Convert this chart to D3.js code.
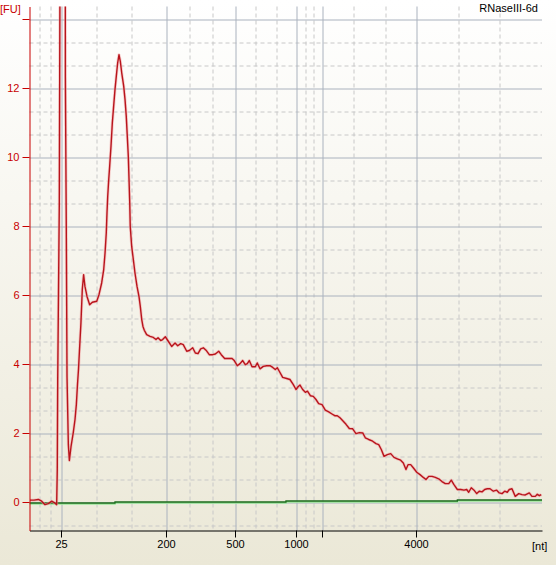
<!DOCTYPE html>
<html>
<head>
<meta charset="utf-8">
<script src="https://cdn.jsdelivr.net/npm/d3@7"></script>
<style>
  body { margin: 0; }
  text { font-family: "Liberation Sans", Arial, sans-serif; font-size: 11px; }
</style>
</head>
<body>
<div id="chart"></div>
<script>
// electropherogram, x is migration time (s), ticks placed at ladder times
var ladderTime = [22.20, 32.44, 39.15, 45.13, 47.60, 56.83];
var ladderLabels = ["25", "200", "500", "1000", "", "4000"];
var fuTicks = [0, 2, 4, 6, 8, 10, 12, 14];
var fuLabels = ["0", "2", "4", "6", "8", "10", "12", ""];

// sample trace (red)
var sampleTime = [
  19.05, 19.44, 19.86, 20.19, 20.51, 20.83, 21.17, 21.42, 21.65, 21.71,
  21.75, 21.91, 22.02, 22.26, 22.48, 22.50, 22.59, 22.66, 22.79, 22.89,
  23.05, 23.27, 23.44, 23.57, 23.68, 23.78, 23.88, 24.02, 24.15, 24.28,
  24.41, 24.61, 24.87, 25.13, 25.56, 25.78, 26.04, 26.24, 26.37, 26.49,
  26.56, 26.63, 26.73, 26.82, 26.95, 27.08, 27.21, 27.34, 27.47, 27.60,
  27.73, 27.86, 28.00, 28.19, 28.32, 28.44, 28.54, 28.64, 28.71, 28.78,
  28.83, 28.97, 29.13, 29.29, 29.49, 29.68, 29.81, 29.95, 30.07, 30.20,
  30.43, 30.76, 31.08, 31.34, 31.54, 31.80, 31.99, 32.25, 32.54, 32.87,
  33.20, 33.46, 33.75, 34.00, 34.34, 34.59, 34.92, 35.18, 35.44, 35.70,
  35.96, 36.22, 36.54, 36.87, 37.13, 37.46, 37.71, 38.04, 38.43, 38.76,
  38.95, 39.27, 39.54, 39.80, 40.05, 40.25, 40.44, 40.71, 41.03, 41.22,
  41.49, 41.81, 42.14, 42.46, 42.73, 42.98, 43.18, 43.37, 43.70, 44.09,
  44.41, 44.74, 45.00, 45.20, 45.39, 45.65, 45.91, 46.12, 46.40, 46.69,
  46.95, 47.21, 47.54, 47.86, 48.19, 48.51, 48.78, 49.03, 49.29, 49.61,
  49.88, 50.20, 50.53, 50.85, 51.18, 51.51, 51.76, 52.09, 52.48, 52.80,
  53.07, 53.32, 53.59, 53.91, 54.24, 54.56, 54.88, 55.21, 55.47, 55.73,
  55.93, 56.19, 56.44, 56.78, 57.10, 57.42, 57.68, 57.95, 58.27, 58.59,
  58.92, 59.24, 59.57, 59.90, 60.15, 60.41, 60.74, 61.07, 61.39, 61.65,
  61.85, 62.10, 62.37, 62.63, 62.88, 63.15, 63.41, 63.66, 63.93, 64.25,
  64.58, 64.83, 65.10, 65.36, 65.61, 65.81, 66.07, 66.39, 66.73, 67.05,
  67.37, 67.76, 68.02, 68.35, 68.54, 68.74, 68.93
];
var sampleFU = [
  0.08, 0.08, 0.10, 0.05, -0.05, -0.02, 0.05, 0.01, -0.05, 0.97,
  3.49, 8.75, 20.0, 45.0, 20.0, 12.34, 7.93, 3.67, 1.69, 1.23,
  1.63, 2.04, 2.42, 2.85, 3.43, 3.87, 4.45, 5.23, 6.19, 6.62,
  6.28, 5.99, 5.75, 5.82, 5.85, 6.04, 6.38, 6.77, 7.25, 7.83,
  8.41, 8.89, 9.38, 9.76, 10.34, 11.02, 11.51, 11.99, 12.38, 12.76,
  13.00, 12.81, 12.47, 12.09, 11.70, 11.22, 10.64, 10.06, 9.38, 8.70,
  8.02, 7.44, 7.06, 6.67, 6.28, 5.99, 5.70, 5.32, 5.12, 5.01,
  4.88, 4.83, 4.80, 4.74, 4.79, 4.71, 4.74, 4.82, 4.69, 4.54,
  4.64, 4.56, 4.62, 4.59, 4.40, 4.42, 4.50, 4.35, 4.33, 4.47,
  4.50, 4.43, 4.30, 4.30, 4.32, 4.40, 4.30, 4.19, 4.19, 4.19,
  4.14, 3.98, 4.04, 4.13, 4.01, 4.04, 4.13, 3.95, 3.95, 4.06,
  3.89, 3.96, 3.98, 3.98, 3.93, 3.87, 3.92, 3.82, 3.64, 3.61,
  3.58, 3.43, 3.29, 3.37, 3.42, 3.29, 3.21, 3.24, 3.11, 3.09,
  3.00, 2.88, 2.85, 2.69, 2.64, 2.58, 2.53, 2.53, 2.47, 2.37,
  2.28, 2.16, 2.15, 2.01, 2.04, 2.03, 1.89, 1.84, 1.79, 1.72,
  1.69, 1.55, 1.35, 1.40, 1.43, 1.32, 1.28, 1.24, 1.16, 0.97,
  1.11, 1.11, 1.02, 0.89, 0.82, 0.74, 0.68, 0.77, 0.77, 0.74,
  0.70, 0.62, 0.56, 0.56, 0.66, 0.53, 0.39, 0.39, 0.37, 0.39,
  0.31, 0.44, 0.37, 0.27, 0.34, 0.32, 0.39, 0.41, 0.41, 0.34,
  0.37, 0.29, 0.27, 0.34, 0.31, 0.39, 0.41, 0.19, 0.27, 0.24,
  0.23, 0.29, 0.19, 0.19, 0.25, 0.21, 0.24
];

// baseline (green), stepped
var baseTime = [19.0, 27.34, 44.02, 60.74, 69.0];
var baseFU = [0, 0.03, 0.06, 0.09, 0.09];

var margin = {top: 6.5, right: 14, bottom: 34.5, left: 29.5},
    width = 556 - margin.left - margin.right,
    height = 565 - margin.top - margin.bottom;

var x = d3.scaleLinear().domain([19, 69]).range([0, width]);
var y = d3.scaleLinear().domain([-0.8, 14.4]).range([height, 0]);

var svg = d3.select("#chart").append("svg")
    .attr("width", 556)
    .attr("height", 565);

var defs = svg.append("defs");
var grad = defs.append("linearGradient")
    .attr("id", "bg").attr("x1", 0).attr("y1", 0).attr("x2", 0).attr("y2", 1);
grad.append("stop").attr("offset", "0%").attr("stop-color", "#ffffff");
grad.append("stop").attr("offset", "100%").attr("stop-color", "#ebe8d7");

defs.append("clipPath").attr("id", "clip")
  .append("rect").attr("width", width).attr("height", height);

svg.append("rect").attr("width", 556).attr("height", 565).attr("fill", "url(#bg)");

var g = svg.append("g")
    .attr("transform", "translate(" + margin.left + "," + margin.top + ")");

function crisp(v) { return Math.floor(v) + 0.5; }

// grid: solid at ticks, dashed at thirds in between
var xb = [x.domain()[0]].concat(ladderTime, [x.domain()[1]]);
var xDash = [];
for (var i = 0; i < xb.length - 1; i++) {
  xDash.push(xb[i] + (xb[i + 1] - xb[i]) / 3, xb[i] + 2 * (xb[i + 1] - xb[i]) / 3);
}
var yDash = [];
for (var v = -2; v < 14.4; v += 2) {
  [v + 2 / 3, v + 4 / 3].forEach(function(d) {
    if (d > y.domain()[0] && d < y.domain()[1]) yDash.push(d);
  });
}

g.selectAll(".xdash").data(xDash).enter().append("line")
    .attr("x1", function(d) { return crisp(x(d)); })
    .attr("x2", function(d) { return crisp(x(d)); })
    .attr("y1", 0).attr("y2", height)
    .style("stroke", "#c8c8c8").style("stroke-dasharray", "4,3");

g.selectAll(".ydash").data(yDash).enter().append("line")
    .attr("x1", 0).attr("x2", width)
    .attr("y1", function(d) { return crisp(y(d)); })
    .attr("y2", function(d) { return crisp(y(d)); })
    .style("stroke", "#c8c8c8").style("stroke-dasharray", "4,3");

g.selectAll(".xsolid").data(ladderTime).enter().append("line")
    .attr("x1", function(d) { return crisp(x(d)); })
    .attr("x2", function(d) { return crisp(x(d)); })
    .attr("y1", 0).attr("y2", height)
    .style("stroke", "#aab2be");

g.selectAll(".ysolid").data(fuTicks).enter().append("line")
    .attr("x1", 0).attr("x2", width)
    .attr("y1", function(d) { return crisp(y(d)); })
    .attr("y2", function(d) { return crisp(y(d)); })
    .style("stroke", "#aab2be");

// traces
var plot = g.append("g").attr("clip-path", "url(#clip)");

var baseData = baseTime.map(function(t, i) { return {t: t, v: baseFU[i]}; });
var baseLine = d3.line()
    .x(function(d) { return x(d.t); })
    .y(function(d) { return crisp(y(d.v)); })
    .curve(d3.curveStepAfter);
plot.append("path").datum(baseData).attr("d", baseLine)
    .attr("transform", "translate(0,1)")
    .attr("fill", "none").style("stroke", "#9be89b").style("stroke-width", 1.5);
plot.append("path").datum(baseData).attr("d", baseLine)
    .attr("fill", "none").style("stroke", "#1d6b1d").style("stroke-width", 1.3);

var sampleData = sampleTime.map(function(t, i) { return {t: t, v: sampleFU[i]}; });
var sampleLine = d3.line()
    .x(function(d) { return x(d.t); })
    .y(function(d) { return y(d.v); });
plot.append("path").datum(sampleData).attr("d", sampleLine)
    .attr("fill", "none").style("stroke", "#f3a6a6").style("stroke-width", 3)
    .style("opacity", 0.55).style("stroke-linejoin", "round");
plot.append("path").datum(sampleData).attr("d", sampleLine)
    .attr("fill", "none").style("stroke", "#b8141c").style("stroke-width", 1.4)
    .style("stroke-linejoin", "round");

// axes
var xAxis = d3.axisBottom(x)
    .tickValues(ladderTime)
    .tickFormat(function(d, i) { return ladderLabels[i]; })
    .tickSize(7).tickSizeOuter(0).tickPadding(3);
var xg = g.append("g")
    .attr("transform", "translate(0," + height + ")")
    .call(xAxis);
// snap ticks to whole pixels like the grid
xg.selectAll(".tick").attr("transform", function(d) {
  return "translate(" + (crisp(x(d)) - 0.5) + ",0)";
});
xg.select(".domain").style("stroke", "#000");
xg.selectAll(".tick line").style("stroke", "#000");
xg.selectAll("text").style("fill", "#000");

var yAxis = d3.axisLeft(y)
    .tickValues(fuTicks)
    .tickFormat(function(d, i) { return fuLabels[i]; })
    .tickSize(7).tickSizeOuter(0).tickPadding(3);
var yg = g.append("g").call(yAxis);
yg.selectAll(".tick").attr("transform", function(d) {
  return "translate(0," + (crisp(y(d)) - 0.5) + ")";
});
yg.select(".domain").style("stroke", "#c80000");
yg.selectAll(".tick line").style("stroke", "#c80000");
yg.selectAll("text").style("fill", "#c80000");
g.selectAll(".tick text").style("font-size", "11px")
    .style("font-family", "Liberation Sans, Arial, sans-serif");

svg.append("text").attr("x", 0).attr("y", 13)
    .text("[FU]").style("fill", "#c80000");
svg.append("text").attr("x", 532).attr("y", 550)
    .text("[nt]").style("fill", "#000");
svg.append("text").attr("x", 538).attr("y", 12)
    .attr("text-anchor", "end")
    .text("RNaseIII-6d").style("fill", "#000");
</script>
</body>
</html>
